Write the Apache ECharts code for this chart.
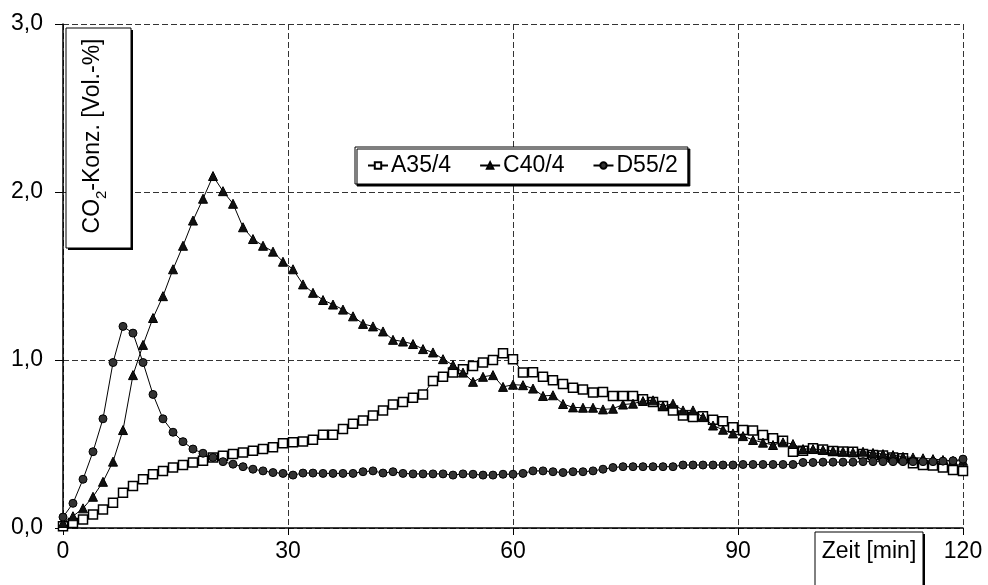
<!DOCTYPE html>
<html>
<head>
<meta charset="utf-8">
<script src="https://cdn.jsdelivr.net/npm/echarts@6/dist/echarts.min.js"></script>
<style>
  html, body { margin: 0; padding: 0; background: #fff; }
  #chart { width: 988px; height: 585px; }
</style>
</head>
<body>
<div id="chart"></div>
<script>
// Zeit in min (Messpunkte alle 80 s)
var zeit = [0, 1.33, 2.67, 4, 5.33, 6.67, 8, 9.33, 10.67, 12, 13.33, 14.67, 16, 17.33, 18.67,
  20, 21.33, 22.67, 24, 25.33, 26.67, 28, 29.33, 30.67, 32, 33.33, 34.67, 36, 37.33, 38.67,
  40, 41.33, 42.67, 44, 45.33, 46.67, 48, 49.33, 50.67, 52, 53.33, 54.67, 56, 57.33, 58.67,
  60, 61.33, 62.67, 64, 65.33, 66.67, 68, 69.33, 70.67, 72, 73.33, 74.67, 76, 77.33, 78.67,
  80, 81.33, 82.67, 84, 85.33, 86.67, 88, 89.33, 90.67, 92, 93.33, 94.67, 96, 97.33, 98.67,
  100, 101.33, 102.67, 104, 105.33, 106.67, 108, 109.33, 110.67, 112, 113.33, 114.67, 116, 117.33, 118.67,
  120];

var a35 = [0.01, 0.03, 0.05, 0.08, 0.11, 0.15, 0.21, 0.25, 0.29, 0.32, 0.34, 0.36, 0.375, 0.39, 0.40,
  0.42, 0.43, 0.44, 0.45, 0.46, 0.47, 0.48, 0.505, 0.51, 0.515, 0.525, 0.555, 0.555, 0.59, 0.62,
  0.64, 0.67, 0.70, 0.735, 0.75, 0.775, 0.795, 0.875, 0.90, 0.925, 0.945, 0.965, 0.985, 1.00, 1.04,
  1.005, 0.925, 0.927, 0.90, 0.88, 0.857, 0.835, 0.825, 0.807, 0.81, 0.786, 0.786, 0.786, 0.766, 0.75,
  0.726, 0.70, 0.67, 0.66, 0.665, 0.645, 0.635, 0.60, 0.583, 0.58, 0.553, 0.534, 0.52, 0.454, 0.46,
  0.474, 0.468, 0.458, 0.455, 0.454, 0.44, 0.434, 0.432, 0.42, 0.415, 0.385, 0.375, 0.372, 0.36, 0.345,
  0.34];

var c40 = [0.03, 0.07, 0.117, 0.186, 0.275, 0.395, 0.583, 0.91, 1.09, 1.25, 1.38, 1.54, 1.68, 1.83, 1.96,
  2.095, 2.005, 1.93, 1.79, 1.72, 1.68, 1.645, 1.585, 1.54, 1.45, 1.40, 1.357, 1.33, 1.30, 1.26,
  1.215, 1.20, 1.17, 1.12, 1.11, 1.095, 1.065, 1.045, 1.005, 0.97, 0.925, 0.87, 0.90, 0.91, 0.84,
  0.853, 0.85, 0.83, 0.786, 0.79, 0.738, 0.718, 0.716, 0.716, 0.706, 0.71, 0.735, 0.74, 0.756, 0.76,
  0.726, 0.74, 0.70, 0.70, 0.66, 0.61, 0.585, 0.563, 0.547, 0.524, 0.508, 0.494, 0.51, 0.50, 0.47,
  0.47, 0.465, 0.46, 0.455, 0.45, 0.454, 0.447, 0.44, 0.434, 0.424, 0.42, 0.415, 0.41, 0.405, 0.40,
  0.40];

var d55 = [0.065, 0.147, 0.29, 0.454, 0.65, 0.985, 1.20, 1.16, 0.985, 0.795, 0.65, 0.57, 0.514, 0.47, 0.445,
  0.42, 0.395, 0.38, 0.365, 0.35, 0.34, 0.33, 0.325, 0.315, 0.327, 0.327, 0.325, 0.325, 0.325, 0.325,
  0.335, 0.34, 0.327, 0.335, 0.325, 0.322, 0.322, 0.322, 0.322, 0.315, 0.322, 0.32, 0.315, 0.315, 0.32,
  0.32, 0.325, 0.34, 0.34, 0.335, 0.33, 0.335, 0.335, 0.34, 0.35, 0.36, 0.365, 0.365, 0.365, 0.365,
  0.365, 0.365, 0.375, 0.375, 0.375, 0.375, 0.375, 0.375, 0.378, 0.378, 0.378, 0.378, 0.378, 0.378, 0.39,
  0.39, 0.392, 0.392, 0.392, 0.392, 0.395, 0.395, 0.395, 0.395, 0.395, 0.395, 0.395, 0.395, 0.398, 0.40,
  0.41];

var serienNamen = ['A35/4', 'C40/4', 'D55/2'];
var yTickLabels = ['0,0', '1,0', '2,0', '3,0'];
var xTicks = [0, 30, 60, 90, 120];

var FONT = 'Arial, "Liberation Sans", sans-serif';

function paare(werte) {
  var res = [];
  for (var i = 0; i < werte.length; i++) {
    res.push([zeit[i], werte[i]]);
  }
  return res;
}

var myChart = echarts.init(document.getElementById('chart'));

var gitter = { show: true, lineStyle: { color: '#333', width: 1, type: [6, 3] } };

myChart.setOption({
  animation: false,
  backgroundColor: '#fff',
  textStyle: { fontFamily: FONT, color: '#000' },
  grid: { left: 63, right: 25, top: 24, bottom: 57, containLabel: false },
  legend: {
    left: 355,
    top: 147,
    padding: [7, 10, 7, 12],
    itemGap: 28,
    itemWidth: 20,
    itemHeight: 8,
    borderColor: '#000',
    borderWidth: 1,
    backgroundColor: '#fff',
    shadowColor: '#000',
    shadowBlur: 0,
    shadowOffsetX: 2,
    shadowOffsetY: 2,
    textStyle: { fontSize: 23, fontFamily: FONT, color: '#000', padding: [0, 0, 0, -2] },
    data: serienNamen
  },
  xAxis: {
    type: 'value',
    min: 0,
    max: 120,
    interval: 30,
    axisLine: { show: true, onZero: false, lineStyle: { color: '#000', width: 1.5 } },
    axisTick: { show: true, inside: false, length: 7, lineStyle: { color: '#000' } },
    axisLabel: {
      fontSize: 23, fontFamily: FONT, color: '#000', margin: 12,
      formatter: function (v) { return xTicks.indexOf(v) >= 0 ? String(v) : ''; }
    },
    splitLine: gitter
  },
  yAxis: {
    type: 'value',
    min: 0,
    max: 3,
    interval: 1,
    axisLine: { show: true, lineStyle: { color: '#000', width: 1.5 } },
    axisTick: { show: true, inside: false, length: 8, lineStyle: { color: '#000' } },
    axisLabel: {
      fontSize: 23, fontFamily: FONT, color: '#000', margin: 20,
      formatter: function (v) { return yTickLabels[Math.round(v)]; }
    },
    splitLine: gitter
  },
  graphic: [
    // Achsentitel y
    { type: 'rect', shape: { x: 68, y: 30, width: 65, height: 220 }, style: { fill: '#000' }, z: 10 },
    { type: 'rect', shape: { x: 66, y: 28, width: 65, height: 220 }, style: { fill: '#fff', stroke: '#000', lineWidth: 1 }, z: 11 },
    {
      type: 'text', x: 93, y: 136, rotation: Math.PI / 2, z: 12,
      style: {
        text: '{a|CO}{s|2}{a|-Konz. [Vol.-%]}',
        align: 'center', verticalAlign: 'middle',
        fontFamily: FONT, fill: '#000',
        rich: {
          a: { fontSize: 23, fontFamily: FONT, lineHeight: 23 },
          s: { fontSize: 15, fontFamily: FONT, lineHeight: 15, padding: [17, 0, 0, 0] }
        }
      }
    },
    // Achsentitel x
    { type: 'rect', shape: { x: 817, y: 534, width: 108, height: 60 }, style: { fill: '#000' }, z: 10 },
    { type: 'rect', shape: { x: 815, y: 532, width: 108, height: 60 }, style: { fill: '#fff', stroke: '#000', lineWidth: 1 }, z: 11 },
    {
      type: 'text', x: 869, y: 552, z: 12,
      style: { text: 'Zeit [min]', align: 'center', verticalAlign: 'middle', fontSize: 23, fontFamily: FONT, fill: '#000' }
    }
  ],
  series: [
    {
      name: serienNamen[0], type: 'line', data: paare(a35),
      symbol: 'rect', symbolSize: 9, showSymbol: true,
      lineStyle: { color: '#000', width: 1 },
      itemStyle: { color: '#fff', borderColor: '#000', borderWidth: 1.5 },
      z: 3
    },
    {
      name: serienNamen[1], type: 'line', data: paare(c40),
      symbol: 'triangle', symbolSize: 9, showSymbol: true,
      lineStyle: { color: '#000', width: 1 },
      itemStyle: { color: '#111', borderColor: '#000', borderWidth: 1 },
      z: 4
    },
    {
      name: serienNamen[2], type: 'line', data: paare(d55),
      symbol: 'circle', symbolSize: 8, showSymbol: true,
      lineStyle: { color: '#000', width: 1 },
      itemStyle: { color: '#333', borderColor: '#000', borderWidth: 1 },
      z: 5
    }
  ]
});
</script>
</body>
</html>
